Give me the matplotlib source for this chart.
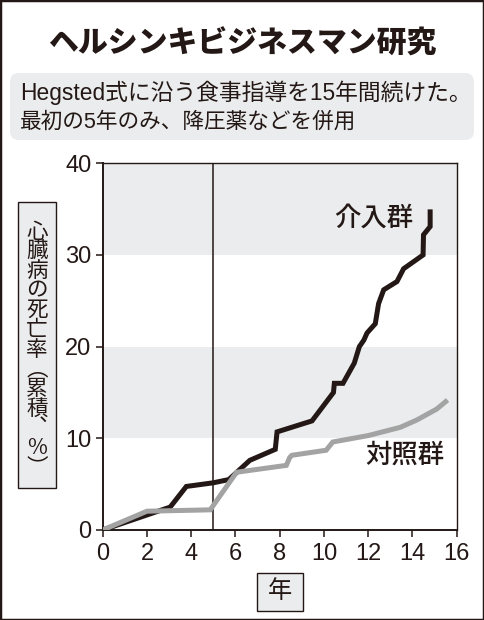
import matplotlib.pyplot as plt
from matplotlib.patches import Rectangle, FancyBboxPatch
from matplotlib.transforms import IdentityTransform

JP = ['Noto Sans CJK JP', 'DejaVu Sans']
MIX = ['Liberation Sans', 'Noto Sans CJK JP']
NUM = 'Liberation Sans'

# 介入群（黒線）
x_kainyu = [0, 3.05, 3.78, 5.0, 5.7, 6.65, 7.8, 7.88, 9.46, 10.43, 10.47,
            10.86, 11.37, 11.6, 11.8, 11.95, 12.32, 12.47, 12.7, 13.3, 13.6,
            14.48, 14.5, 14.8, 14.8]
y_kainyu = [0, 2.5, 4.75, 5.15, 5.5, 7.6, 8.8, 10.7, 11.9, 15.0, 16.0,
            16.0, 18.2, 20.0, 20.7, 21.5, 22.5, 24.7, 26.2, 27.1, 28.5,
            30.0, 32.2, 33.1, 34.7]

# 対照群（灰色線）
x_taisho = [0, 2.0, 4.86, 6.05, 8.3, 8.45, 8.55, 10.1, 10.4, 12.0, 13.45,
            14.2, 15.1, 15.5]
y_taisho = [0, 2.05, 2.2, 6.3, 7.05, 7.9, 8.15, 8.7, 9.6, 10.3, 11.2,
            12.0, 13.2, 14.0]

x_ticks = [0, 2, 4, 6, 8, 10, 12, 14, 16]
y_ticks = [0, 10, 20, 30, 40]
bandas = [(10, 20), (30, 40)]

titulo = 'ヘルシンキビジネスマン研究'
subtitulo = ['Hegsted式に沿う食事指導を15年間続けた。', '最初の5年のみ、降圧薬などを併用']
etiqueta_y = ['心', '臓', '病', 'の', '死', '亡', '率', '︵', '累', '積', '︑', '%', '︶']

OSCURO = '#231815'
GRIS = '#a3a3a3'
FONDO = '#ebeced'

fig = plt.figure(figsize=(4.84, 6.2), dpi=100)
W, H = 484, 620

# marco exterior
fig.patches.append(Rectangle((0, 0), 1, 1, transform=fig.transFigure,
                             fill=False, lw=2.5, edgecolor=OSCURO))

# titulo
fig.text(0.5, 1 - 43 / H, titulo, ha='center', va='center', fontsize=21.5,
         fontweight='heavy', family=JP, color=OSCURO)

# caja del subtitulo
r = 9
fig.patches.append(FancyBboxPatch((10 + r, H - 140 + r), 464 - 2 * r, 67 - 2 * r,
                                  boxstyle=f'round,pad={r}', transform=IdentityTransform(),
                                  facecolor=FONDO, edgecolor='none'))
fig.text(20 / W, 1 - 93 / H, subtitulo[0], ha='left', va='center', fontsize=16.4,
         family=MIX, color=OSCURO)
fig.text(20 / W, 1 - 122 / H, subtitulo[1], ha='left', va='center', fontsize=15.6,
         family=MIX, color=OSCURO)

# ejes
ax = fig.add_axes([102.7 / W, 1 - 530 / H, 354 / W, (530 - 163.3) / H])
for a, b in bandas:
    ax.axhspan(a, b, color=FONDO, lw=0, zorder=0)
ax.axvline(5, color=OSCURO, lw=1.1, zorder=1)

ax.plot(x_kainyu, y_kainyu, color=OSCURO, lw=3.6, solid_joinstyle='miter', zorder=3)
ax.plot(x_taisho, y_taisho, color=GRIS, lw=3.6, solid_joinstyle='miter', zorder=4)

ax.set_xlim(0, 16)
ax.set_ylim(0, 40)
ax.set_xticks(x_ticks)
ax.set_yticks(y_ticks)
ax.tick_params(direction='out', length=5, width=1.1, color=OSCURO, labelsize=17,
               labelcolor=OSCURO)
ax.tick_params(axis='x', pad=4)
ax.tick_params(axis='y', pad=3)
for lbl in ax.get_xticklabels() + ax.get_yticklabels():
    lbl.set_family(NUM)
for lado in ['left', 'bottom']:
    ax.spines[lado].set_linewidth(1.4)
    ax.spines[lado].set_color(OSCURO)
for lado in ['top', 'right']:
    ax.spines[lado].set_linewidth(1.0)
    ax.spines[lado].set_color(OSCURO)

ax.text(12.25, 34.0, '介入群', ha='center', va='center', fontsize=19,
        fontweight='medium', family=JP, color=OSCURO)
ax.text(13.68, 8.2, '対照群', ha='center', va='center', fontsize=19,
        fontweight='medium', family=JP, color=OSCURO)

# caja del eje y (texto vertical en un solo bloque)
fig.patches.append(Rectangle((18 / W, 1 - 488 / H), 38 / W, 286 / H,
                             transform=fig.transFigure, facecolor=FONDO,
                             edgecolor=OSCURO, lw=1.0))
fig.text(37 / W, 1 - 349.5 / H, '\n'.join(etiqueta_y), ha='center', va='center',
         multialignment='center', fontsize=15.5, linespacing=0.86,
         family=JP, color=OSCURO)

# caja del eje x
fig.patches.append(Rectangle((257 / W, 1 - 611 / H), 46 / W, 38 / H,
                             transform=fig.transFigure, facecolor=FONDO,
                             edgecolor=OSCURO, lw=1.0))
fig.text(280 / W, 1 - 591 / H, '年', ha='center', va='center', fontsize=17.5,
         family=JP, color=OSCURO)

fig.savefig('out.png', dpi=100, facecolor='white')
